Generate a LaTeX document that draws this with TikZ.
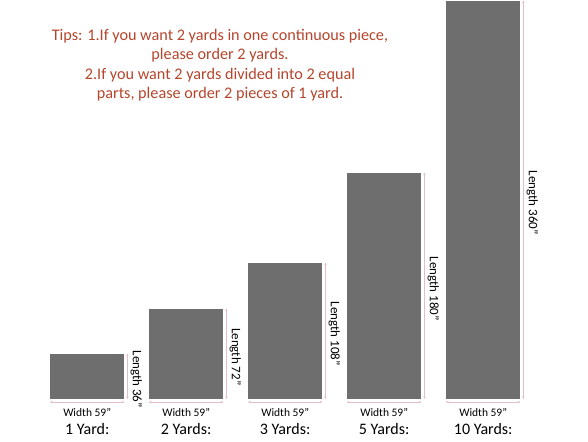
\documentclass[tikz,border=0pt]{standalone}
\usepackage{fontspec}
\setmainfont{Carlito}
\usetikzlibrary{arrows.meta}
\definecolor{barfill}{HTML}{6E6E6E}
\definecolor{dimcol}{HTML}{E2BDCB}
\definecolor{tipred}{HTML}{B5452C}
\tikzset{
  bar/.style={fill=barfill, draw=none, inner sep=0pt, minimum width=74pt, anchor=south west},
  dimline/.style={draw=dimcol, line width=0.6pt, {Stealth[length=2.5pt,width=2.5pt]}-{Stealth[length=2.5pt,width=2.5pt]}},
  lenlabel/.style={rotate=-90, font=\fontsize{13}{14}\selectfont, inner sep=0pt},
  widlabel/.style={font=\fontsize{11.5}{12}\selectfont, inner sep=0pt},
  yardlabel/.style={font=\fontsize{16}{17}\selectfont, inner sep=0pt},
  tips/.style={text=tipred, align=center, font=\fontsize{16.2}{19.5}\selectfont, inner sep=0pt}
}
\begin{document}
\begin{tikzpicture}[x=1pt,y=-1pt]
\useasboundingbox (0,0) rectangle (588,441);
\node[tips] (tip) at (220,65) {Tips: 1.If you want 2 yards in one continuous piece,\\ please order 2 yards.\\ 2.If you want 2 yards divided into 2 equal\\ parts, please order 2 pieces of 1 yard.};
% bars
\node[bar, minimum height=45pt] (r1) at (50,399) {};
\node[bar, minimum height=90pt] (r2) at (149,399) {};
\node[bar, minimum height=136pt] (r3) at (248,399) {};
\node[bar, minimum height=226pt] (r5) at (347,399) {};
\node[bar, minimum height=398pt] (r10) at (446,399) {};
\foreach \r/\len/\yd in {r1/36/1 Yard:, r2/72/2 Yards:, r3/108/3 Yards:, r5/180/5 Yards:, r10/360/10 Yards:}{
  \coordinate (\r hl) at ([yshift=-3pt]\r.south west);
  \coordinate (\r hr) at ([yshift=-3pt]\r.south east);
  \coordinate (\r vt) at ([xshift=3pt]\r.north east);
  \coordinate (\r vb) at ([xshift=3pt]\r.south east);
  \draw[dimline] (\r hl) -- (\r hr);
  \draw[dimline] (\r vt) -- (\r vb);
  \node[lenlabel] (\r len) at ([xshift=12pt,yshift=-3pt]\r.east) {Length \len”};
  \node[widlabel] (\r wid) at ([yshift=-13.5pt]\r.south) {Width 59”};
  \node[yardlabel] (\r yd) at ([yshift=-30pt]\r.south) {\yd};
}
\end{tikzpicture}
\end{document}
